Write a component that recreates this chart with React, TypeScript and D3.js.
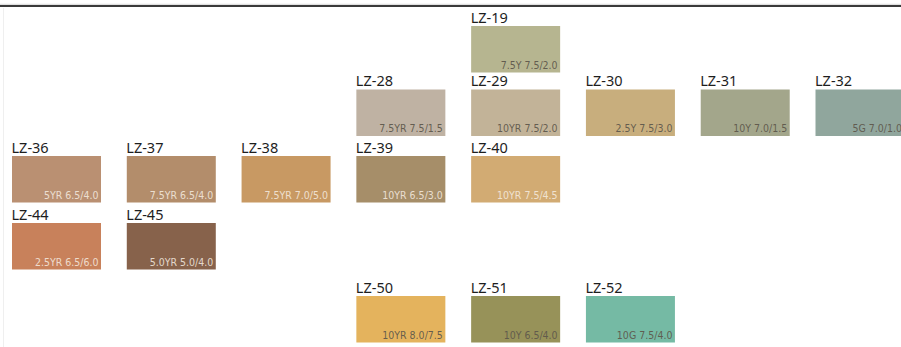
import React from "react";
import * as d3 from "d3";

const codes = ["LZ-19", "LZ-28", "LZ-29", "LZ-30", "LZ-31", "LZ-32", "LZ-36", "LZ-37", "LZ-38", "LZ-39", "LZ-40", "LZ-44", "LZ-45", "LZ-50", "LZ-51", "LZ-52"];
const munsell = ["7.5Y 7.5/2.0", "7.5YR 7.5/1.5", "10YR 7.5/2.0", "2.5Y 7.5/3.0", "10Y 7.0/1.5", "5G 7.0/1.0", "5YR 6.5/4.0", "7.5YR 6.5/4.0", "7.5YR 7.0/5.0", "10YR 6.5/3.0", "10YR 7.5/4.5", "2.5YR 6.5/6.0", "5.0YR 5.0/4.0", "10YR 8.0/7.5", "10Y 6.5/4.0", "10G 7.5/4.0"];
const swatchColors = ["#b6b590", "#bfb2a3", "#c2b398", "#c8ae7d", "#a3a68b", "#90a69d", "#ba9072", "#b38d6b", "#c89963", "#a68e69", "#d2ab73", "#c8815b", "#87624b", "#e4b35d", "#979259", "#75baa4"];
const columns = [4, 3, 4, 5, 6, 7, 0, 1, 2, 3, 4, 0, 1, 3, 4, 5];
const rows = [0, 1, 1, 1, 1, 1, 2, 2, 2, 2, 2, 3, 3, 4, 4, 4];
const lightText = [false, false, false, false, false, false, true, true, true, true, true, true, true, false, false, false];

const W = 901;
const H = 347;

export default function App() {
  const x = d3.scaleLinear().domain([0, 7]).range([12, 815.5]);
  const y = d3.scaleOrdinal<number, number>().domain([0, 1, 2, 3, 4]).range([26, 89.5, 156, 223, 296]);
  const sw = 89;
  const sh = 46.5;

  return (
    <svg
      width={W}
      height={H}
      style={{ position: "absolute", left: 0, top: 0, display: "block", background: "#fff" }}
    >
      <rect x={0} y={0} width={W} height={H} fill="#fff" />
      <line x1={0} x2={W} y1={6} y2={6} stroke="#3a3a3a" strokeWidth={2.2} />
      <line x1={0} x2={W} y1={4.3} y2={4.3} stroke="#bdbdbd" strokeWidth={0.6} />
      <line x1={3.5} x2={3.5} y1={8} y2={H} stroke="#efefef" strokeWidth={1} />
      {codes.map((c, i) => {
        const sx = x(columns[i]);
        const sy = y(rows[i]);
        return (
          <g key={c}>
            <text
              x={sx - 0.5}
              y={sy - 3.5}
              fontFamily="'Noto Sans', 'Open Sans', sans-serif"
              fontSize={14.5}
              fill="#1e1e1e"
            >
              {c}
            </text>
            <rect x={sx} y={sy} width={sw} height={sh} fill={swatchColors[i]} />
            <text
              x={sx + sw - 2.5}
              y={sy + sh - 4}
              textAnchor="end"
              fontFamily="'Liberation Sans Narrow', 'DejaVu Sans Condensed', sans-serif"
              fontSize={10.5}
              fill={lightText[i] ? "#f6ede2" : "#5e584c"}
              fillOpacity={lightText[i] ? 0.85 : 0.95}
            >
              {munsell[i]}
            </text>
          </g>
        );
      })}
    </svg>
  );
}
